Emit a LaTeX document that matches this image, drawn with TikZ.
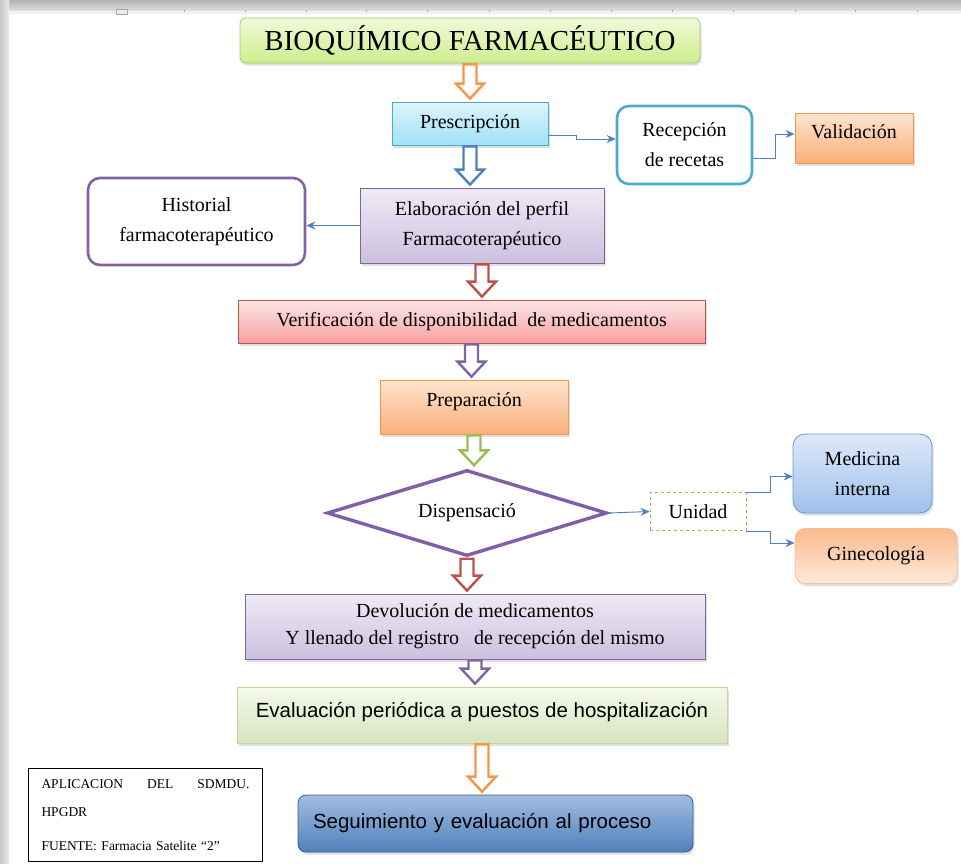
\documentclass[tikz,border=0pt]{standalone}
\usepackage{fontspec}
\setmainfont{Liberation Serif}
\setsansfont{Liberation Sans}
\usetikzlibrary{positioning,calc,shapes.geometric,shadows,arrows.meta}

\definecolor{lineblue}{RGB}{79,129,189}
\definecolor{arrorange}{RGB}{247,150,70}
\definecolor{arrblue}{RGB}{79,129,189}
\definecolor{arrred}{RGB}{192,80,77}
\definecolor{arrpurple}{RGB}{128,100,162}
\definecolor{arrgreen}{RGB}{155,187,89}

% hollow block arrow going down from one box to the next
\newcommand{\blockarrow}[3]{%
  \draw[draw=#1, line width=2.4pt, fill=white, line join=miter]
    ($(#2)+(-6.5,1)$) -- ($(#2)+(6.5,1)$)
    -- ($(#2 |- #3)+(6.5,-18)$) -- ($(#2 |- #3)+(14,-18)$)
    -- ($(#2 |- #3)+(0,-3)$)
    -- ($(#2 |- #3)+(-14,-18)$) -- ($(#2 |- #3)+(-6.5,-18)$) -- cycle;}

\tikzset{
  boxtxt/.style={font=\fontsize{20}{30}\selectfont, align=center},
  flowbox/.style={boxtxt, draw, rectangle, line width=0.8pt,
    drop shadow={opacity=0.25, shadow xshift=1.5pt, shadow yshift=-2.5pt}},
  roundbox/.style={boxtxt, draw, rectangle, rounded corners=12pt, line width=2.6pt, fill=white},
  conn/.style={draw=lineblue, line width=0.9pt, -{Stealth[length=9pt,width=8pt]}},
}

\begin{document}
\begin{tikzpicture}[x=1pt,y=1pt,yscale=-1]
\useasboundingbox (0,0) rectangle (961,863);

% page frame
\shade[top color=gray!60, bottom color=gray!25] (0,0) rectangle (961,11);
\fill[gray!12] (0,11) rectangle (961,14);
\shade[left color=gray!45, right color=gray!15] (0,0) rectangle (9,863);
\foreach \t in {184,245,306,366,427,489,550,611,672,733,795,855,917}
  \draw[gray!70, line width=0.8pt] (\t,10) -- (\t,12);
\draw[gray!70, fill=gray!15] (116,9) rectangle (127,14);

% main column
\node[flowbox, rounded corners=6pt, draw={rgb,255:red,166;green,201;blue,106},
  top color={rgb,255:red,240;green,250;blue,218}, bottom color={rgb,255:red,205;green,238;blue,140},
  minimum width=460, minimum height=45, font=\fontsize{29}{32}\selectfont]
  (title) at (470,40.5) {BIOQUÍMICO FARMACÉUTICO};

\node[flowbox, draw={rgb,255:red,75;green,172;blue,198},
  top color={rgb,255:red,222;green,244;blue,251}, bottom color={rgb,255:red,160;green,226;blue,247},
  minimum width=156, minimum height=43] (presc) at (470,123.5) {Prescripción};

\node[roundbox, draw={rgb,255:red,75;green,172;blue,198}, minimum width=135, minimum height=78]
  (recep) at (684.5,145) {Recepción\\de recetas};

\node[flowbox, draw={rgb,255:red,247;green,150;blue,70},
  top color={rgb,255:red,253;green,228;blue,208}, bottom color={rgb,255:red,250;green,176;blue,122},
  minimum width=118, minimum height=50, text depth=12pt] (valid) at (854,138) {Validación};

\node[flowbox, draw={rgb,255:red,128;green,100;blue,162},
  top color={rgb,255:red,238;green,234;blue,245}, bottom color={rgb,255:red,204;green,192;blue,223},
  minimum width=244, minimum height=75] (elab) at (482,225.5) {Elaboración del perfil\\Farmacoterapéutico};

\node[roundbox, draw={rgb,255:red,128;green,100;blue,162}, minimum width=217, minimum height=87]
  (hist) at (196.5,221.5) {Historial\\farmacoterapéutico};

\node[flowbox, draw={rgb,255:red,192;green,80;blue,77},
  top color={rgb,255:red,253;green,230;blue,230}, bottom color={rgb,255:red,248;green,160;blue,160},
  minimum width=467, minimum height=43] (verif) at (471.5,321.5)
  {Verificación de disponibilidad\ \ de medicamentos};

\node[flowbox, draw={rgb,255:red,247;green,150;blue,70},
  top color={rgb,255:red,253;green,228;blue,208}, bottom color={rgb,255:red,250;green,176;blue,122},
  minimum width=188, minimum height=54, text depth=14pt] (prep) at (474,407) {Preparación};

\node[boxtxt, diamond, draw={rgb,255:red,128;green,95;blue,168}, line width=3.4pt, fill=white,
  aspect=3.25, minimum width=280, minimum height=86, inner sep=0pt]
  (disp) at (467,513) {Dispensació};

\node[boxtxt, draw=arrgreen, dashed, line width=0.9pt, minimum width=96, minimum height=38]
  (unid) at (698,511.5) {Unidad};

\node[flowbox, rounded corners=12pt, draw={rgb,255:red,109;green,149;blue,201},
  top color={rgb,255:red,222;green,233;blue,250}, bottom color={rgb,255:red,160;green,192;blue,236},
  minimum width=139, minimum height=79] (medi) at (862.5,473.5) {Medicina\\interna};

\node[flowbox, rounded corners=10pt, draw={rgb,255:red,250;green,190;blue,150},
  top color={rgb,255:red,249;green,187;blue,140}, bottom color={rgb,255:red,253;green,233;blue,218},
  minimum width=162, minimum height=55] (gine) at (876,556) {Ginecología};

\node[flowbox, draw={rgb,255:red,128;green,100;blue,162},
  top color={rgb,255:red,238;green,234;blue,245}, bottom color={rgb,255:red,204;green,192;blue,223},
  minimum width=460, minimum height=65, font=\fontsize{20}{27}\selectfont] (devol) at (475,626.5)
  {Devolución de medicamentos\\Y llenado del registro\ \ \ de recepción del mismo};

\node[flowbox, draw={rgb,255:red,195;green,214;blue,155},
  top color={rgb,255:red,245;green,249;blue,236}, bottom color={rgb,255:red,215;green,228;blue,189},
  minimum width=490, minimum height=56, text depth=10pt, font=\sffamily\fontsize{20.5}{24}\selectfont]
  (eval) at (482,715) {Evaluación periódica a puestos de hospitalización};

\node[flowbox, rounded corners=8pt, draw={rgb,255:red,56;green,93;blue,138},
  top color={rgb,255:red,160;green,188;blue,224}, bottom color={rgb,255:red,79;green,129;blue,189},
  minimum width=395, minimum height=57, text width=365, align=left,
  font=\sffamily\fontsize{20.5}{24}\selectfont] (seg) at (495.5,823.5) {Seguimiento y evaluación al proceso};

% source note
\node[draw, line width=1pt, anchor=north west, text width=208, inner xsep=13pt, inner ysep=11pt,
  align=left, font=\fontsize{13.5}{28}\selectfont] (fuente) at (28,768)
  {APLICACION \hfill DEL \hfill SDMDU.\\HPGDR\\[6pt]FUENTE: Farmacia Satelite “2”\\ };

% block arrows
\blockarrow{arrorange}{title.south}{presc.north}
\blockarrow{arrblue}{presc.south}{elab.north}
\blockarrow{arrred}{elab.south}{verif.north}
\blockarrow{arrpurple}{verif.south}{prep.north}
\blockarrow{arrgreen}{prep.south}{disp.north}
\blockarrow{arrred}{disp.south}{devol.north}
\blockarrow{arrpurple}{devol.south}{eval.north}
\blockarrow{arrorange}{eval.south}{seg.north}

% thin connectors
\draw[conn] ($(presc.east)+(0,12)$) -- ++(28,0) |- ($(recep.west)+(0,-6)$);
\draw[conn] ($(recep.east)+(0,13)$) -- ++(22,0) |- ($(valid.west)+(0,-4)$);
\draw[conn] (elab.west) -- (elab.west -| hist.east);
\draw[conn] (disp.east) -- (unid.west);
\draw[conn] (unid.north east) -- ++(24,0) |- ($(medi.west)+(0,3)$);
\draw[conn] (unid.south east) -- ++(24,0) |- ($(gine.west)+(0,-13)$);
\end{tikzpicture}
\end{document}
